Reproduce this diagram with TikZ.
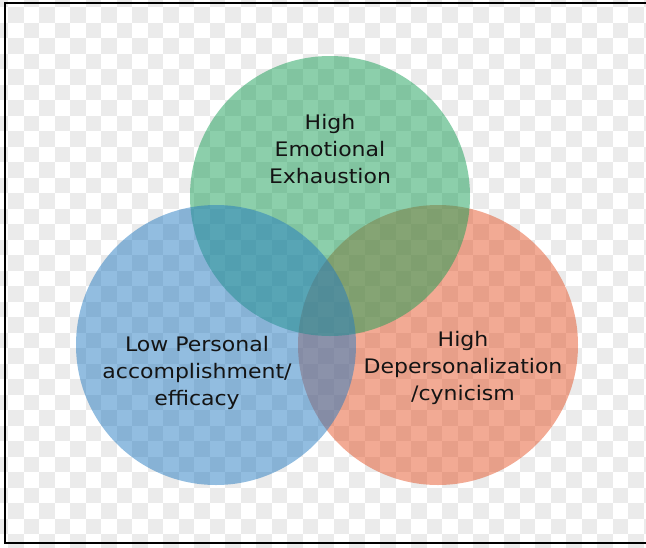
\documentclass[tikz,border=0pt]{standalone}
\usepackage{fontspec}
\setmainfont[FakeStretch=1.1]{DejaVu Sans}
\definecolor{exhgreen}{HTML}{199F57}
\definecolor{effblue}{HTML}{257BC1}
\definecolor{cynred}{HTML}{E55529}
\definecolor{checker}{HTML}{EBEBEB}
\definecolor{ink}{HTML}{141414}
\tikzset{
  ring/.style={circle,minimum size=280pt,inner sep=0pt,fill opacity=0.5},
  lbl/.style={align=center,text=ink,font=\fontsize{20}{27}\selectfont},
}
\begin{document}
\begin{tikzpicture}[x=1pt,y=-1pt]
        \useasboundingbox (0,0) rectangle (646,547);
        %% checker background
        \begin{scope}
        \clip (0,0) rectangle (646,547);
        \foreach \i in {-1,...,41}
          \foreach \j in {-1,...,35} {
            \pgfmathtruncatemacro\k{mod(\i+\j+100,2)}
            \ifnum\k=0
              \fill[checker] (8+15.5*\i,7+15.5*\j) rectangle ++(15.5,15.5);
            \fi
          }
        \end{scope}
        %% frame
        \draw[line width=2pt] (650,3) -- (5,3) -- (5,543) -- (650,543);
        %% circles
        \node[ring,fill=cynred] (cyn) at (438,345) {};
        \node[ring,fill=exhgreen] (exh) at (330,196) {};
        \node[ring,fill=effblue] (eff) at (216,345) {};
        %% labels
        \node[lbl] (exhtxt) at (330,149) {High\\Emotional\\Exhaustion};
        \node[lbl] (efftxt) at (197,373) {Low Personal\\accomplishment/\\efficacy};
        \node[lbl] (cyntxt) at (463,368) {High\\Depersonalization\\/cynicism};
\end{tikzpicture}
\end{document}
